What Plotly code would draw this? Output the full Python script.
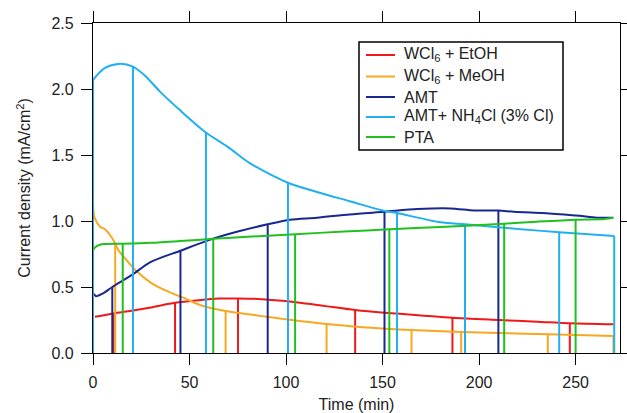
import plotly.graph_objects as go

# ---- data ----
names = ["WCl<sub>6</sub> + EtOH", "WCl<sub>6</sub> + MeOH", "AMT",
         "AMT+ NH<sub>4</sub>Cl (3% Cl)", "PTA"]
colors = ["#f01818", "#f8a820", "#182890", "#20b0f0", "#20c020"]

red_t = [1, 10.7, 20, 30, 42.5, 55, 65, 75.1, 85, 98, 116, 135.8, 151, 170, 186.2, 210, 230, 247, 269.6]
red_v = [0.275, 0.30, 0.32, 0.345, 0.38, 0.40, 0.412, 0.413, 0.41, 0.395, 0.364, 0.326, 0.305, 0.285, 0.267, 0.25, 0.237, 0.225, 0.217]
red_drops = [10.7, 42.5, 75.1, 135.8, 186.2, 247]

orange_t = [0, 0.7, 3.6, 6.2, 8.8, 11.5, 13.1, 16.6, 21.8, 30.4, 39, 47.7, 55.4, 68.7, 90, 121, 140, 165, 190.7, 210, 235.6, 269.6]
orange_v = [1.15, 1.03, 0.957, 0.937, 0.894, 0.83, 0.78, 0.717, 0.63, 0.528, 0.465, 0.414, 0.364, 0.318, 0.275, 0.22, 0.196, 0.174, 0.16, 0.152, 0.142, 0.129]
orange_drops = [0, 11.5, 68.7, 121, 165, 190.7, 235.6, 269.6]

amt_t = [0.5, 1.5, 5, 10, 20, 30, 45.3, 60, 75, 90.5, 102, 116, 133, 151, 168, 185, 197.5, 210, 218, 233, 244, 252, 261, 269.5]
amt_v = [0.45, 0.43, 0.45, 0.50, 0.59, 0.69, 0.775, 0.855, 0.92, 0.975, 1.01, 1.025, 1.05, 1.07, 1.09, 1.095, 1.08, 1.08, 1.07, 1.06, 1.05, 1.04, 1.025, 1.025]
amt_drops = [10, 45.3, 90.5, 151, 210]

amtcl_t = [0, 6.2, 13.1, 20.7, 27, 34.7, 45, 58.5, 70, 81, 101, 116, 133, 150, 157.5, 180, 192.7, 220, 241.5, 270]
amtcl_v = [2.07, 2.16, 2.19, 2.17, 2.10, 1.98, 1.84, 1.67, 1.56, 1.44, 1.29, 1.22, 1.15, 1.08, 1.06, 0.99, 0.975, 0.94, 0.915, 0.886]
amtcl_drops = [0, 20.7, 58.5, 101, 157.5, 192.7, 241.5, 270]

pta_t = [0, 1, 3.6, 6, 15.4, 30, 45, 62.3, 80, 104.7, 130, 153.5, 180, 213, 230, 250, 265, 269.6]
pta_v = [0.78, 0.80, 0.82, 0.825, 0.828, 0.835, 0.848, 0.865, 0.88, 0.90, 0.92, 0.937, 0.955, 0.98, 0.995, 1.01, 1.015, 1.025]
pta_drops = [15.4, 62.3, 104.7, 153.5, 213, 250]

x_ticks = [0, 50, 100, 150, 200, 250]
y_ticks = [0, 0.5, 1.0, 1.5, 2.0, 2.5]

series = [(red_t, red_v, red_drops), (orange_t, orange_v, orange_drops),
          (amt_t, amt_v, amt_drops), (amtcl_t, amtcl_v, amtcl_drops),
          (pta_t, pta_v, pta_drops)]

W, H = 627, 413
ML, MR, MT, MB = 93, 7, 23, 60
PW, PH = W - ML - MR, H - MT - MB


def px(X):
    return (X - ML) / PW


def py(Y):
    return (H - MB - Y) / PH


fig = go.Figure()
for i, (name, col, (ts, vs, dr)) in enumerate(zip(names, colors, series)):
    dx, dy = [], []
    for t in dr:
        v = vs[ts.index(t)]
        dx += [t, t, None]
        dy += [0, v, None]
    fig.add_trace(go.Scatter(x=dx, y=dy, mode="lines", showlegend=False, hoverinfo="skip",
                             line=dict(color=col, width=2)))
    fig.add_trace(go.Scatter(x=ts, y=vs, mode="lines", name=name, showlegend=False,
                             line=dict(color=col, width=2, shape="spline", smoothing=0.8)))

font = dict(family="Liberation Sans, Arial, sans-serif", size=16, color="#222")

# manual legend (box, line samples, labels)
box = dict(x0=359, x1=563, y0=42, y1=150)
fig.add_shape(type="rect", xref="paper", yref="paper",
              x0=px(box["x0"]), x1=px(box["x1"]), y0=py(box["y1"]), y1=py(box["y0"]),
              line=dict(color="black", width=1.5), fillcolor="white", layer="above")
row_y = [55, 76.5, 97, 117, 137]
for name, col, ry in zip(names, colors, row_y):
    fig.add_shape(type="line", xref="paper", yref="paper",
                  x0=px(366), x1=px(395), y0=py(ry), y1=py(ry),
                  line=dict(color=col, width=2), layer="above")
    fig.add_annotation(xref="paper", yref="paper", x=px(402), y=py(ry),
                       xanchor="left", yanchor="middle", text=name, showarrow=False,
                       font=font)

axis_common = dict(showline=True, linecolor="black", linewidth=1.2, mirror="ticks",
                   ticks="outside", ticklen=11, tickcolor="black", tickwidth=1.2,
                   showgrid=False, zeroline=False, tickfont=font, automargin=False,
                   ticklabelstandoff=4)

fig.update_layout(
    width=W, height=H,
    margin=dict(l=ML, r=MR, t=MT, b=MB, autoexpand=False),
    paper_bgcolor="white", plot_bgcolor="white",
    font=font,
    xaxis=dict(range=[0, 273], tickvals=x_ticks, ticktext=[str(v) for v in x_ticks],
               title=dict(text="Time (min)", font=font, standoff=10), **axis_common),
    yaxis=dict(range=[0, 2.5], tickvals=y_ticks, ticktext=[f"{v:.1f}" for v in y_ticks],
               title=dict(text="Current density (mA/cm<sup>2</sup>)", font=font, standoff=16),
               **axis_common),
    showlegend=False,
)

fig.write_html("out.html")
